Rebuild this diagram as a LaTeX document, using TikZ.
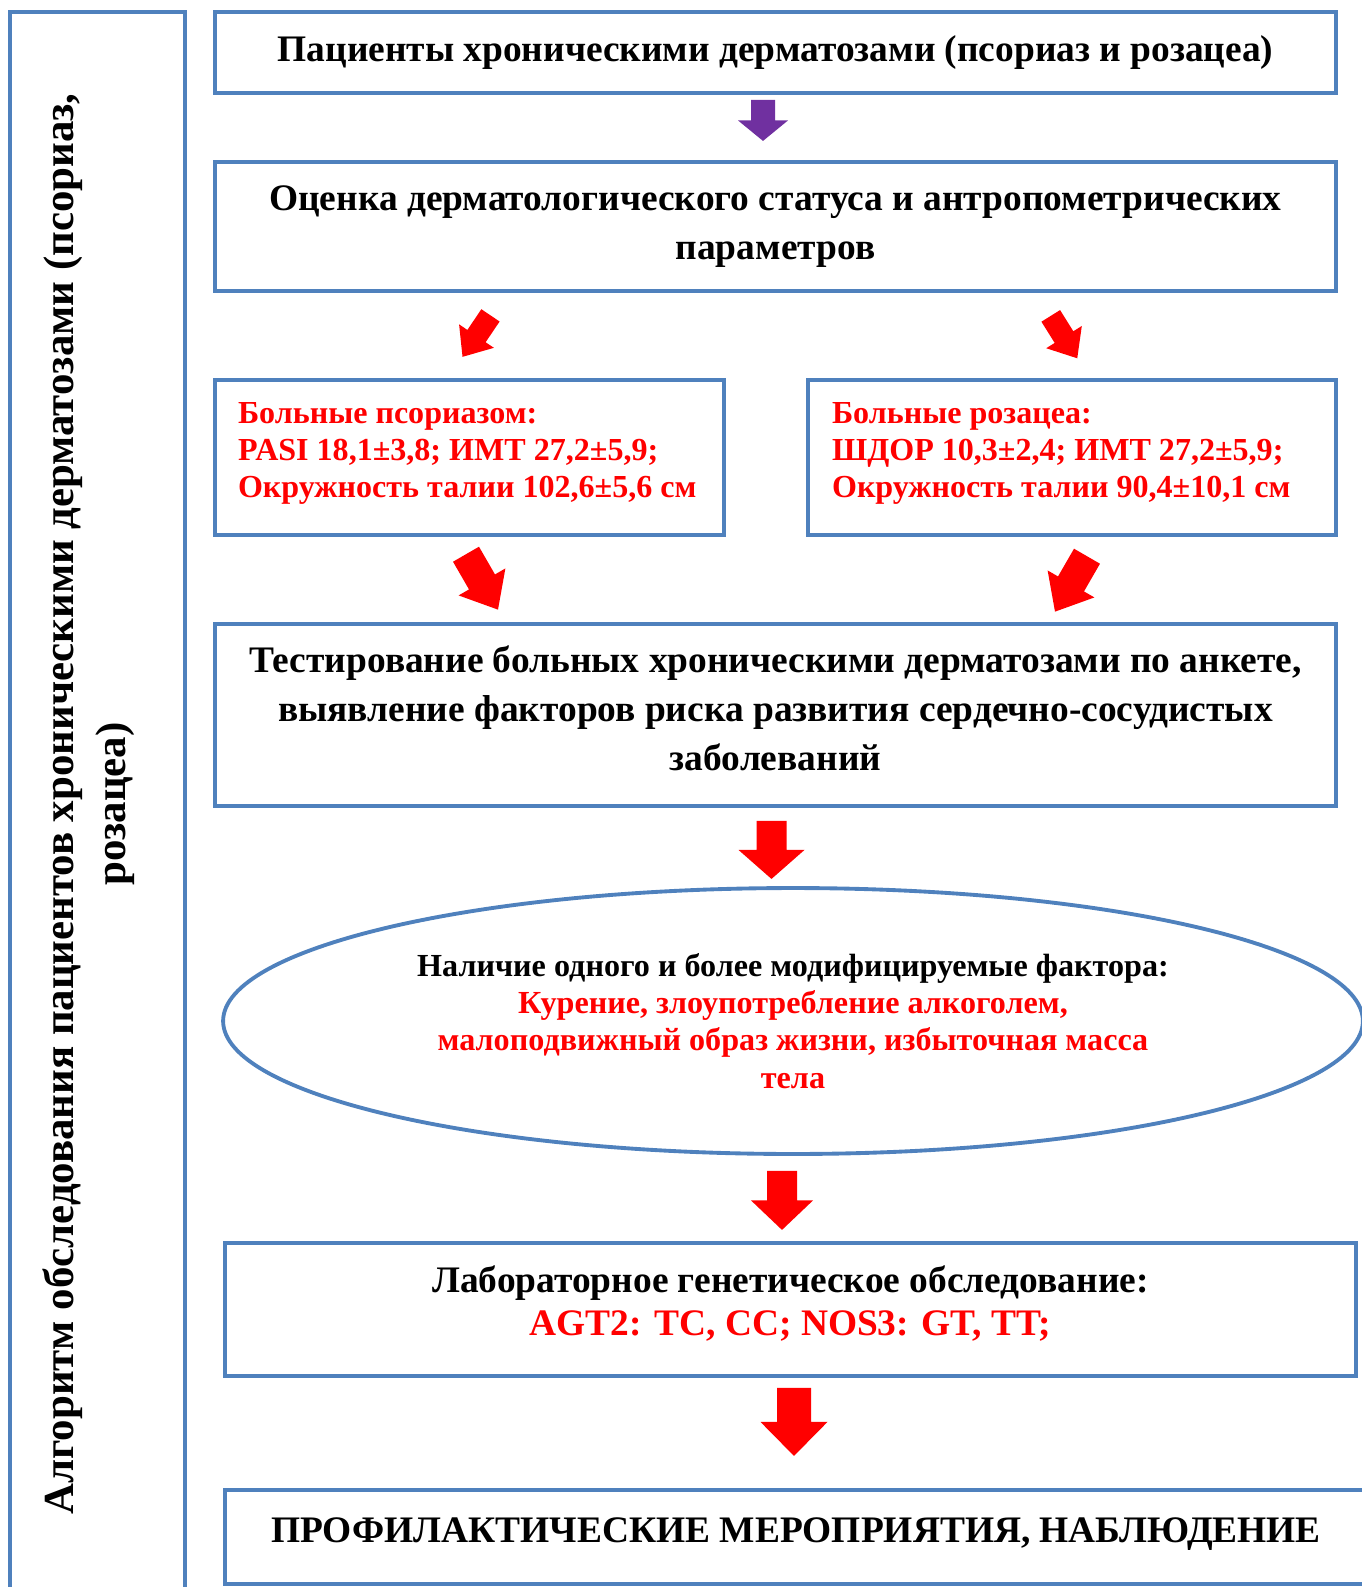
\documentclass[tikz,border=0pt]{standalone}
\usepackage{fontspec}
\setmainfont{Liberation Serif}
\usetikzlibrary{calc,shapes.geometric}

\definecolor{frameblue}{RGB}{79,129,189}
\definecolor{arrowpurple}{RGB}{112,48,160}

% block arrow: colour, centre, angle, length, shaft width, head width
\newcommand{\blkarrow}[6]{%
  \begin{scope}[shift={#2}, rotate=#3]
    \fill [#1] (-#5/2,-#4/2) -- (#5/2,-#4/2) -- (#5/2,0) -- (#6/2,0)
      -- (0,#4/2) -- (-#6/2,0) -- (-#5/2,0) -- cycle;
  \end{scope}}
% lift text inside a box without changing its size
\newcommand{\lifttext}[2]{\raisebox{#1}[\height][\depth]{#2}}

\begin{document}
\begin{tikzpicture}[x=0.02cm,y=-0.02cm,
    box/.style={draw=frameblue, line width=2.2pt, inner sep=0pt, align=center,
      font=\bfseries\fontsize{21.3}{27.8}\selectfont},
    redbox/.style={box, align=left, text=red,
      font=\bfseries\fontsize{18.25}{21.2}\selectfont}]
  \useasboundingbox (0,0) rectangle (1362,1587);

  \node [box, minimum width=3.5cm, minimum height=31.76cm] (side) at (97.5,806) {};
  \node [rotate=90, align=center, font=\bfseries\fontsize{24.4}{29.5}\selectfont]
    (sidetext) at (89,804)
    {Алгоритм обследования пациентов хроническими дерматозами (псориаз,\\ розацеа)};

  \node [box, minimum width=22.42cm, minimum height=1.62cm] (pat) at (775.5,52.5)
    {Пациенты хроническими дерматозами (псориаз и розацеа)};
  \node [box, minimum width=22.42cm, minimum height=2.58cm] (eval) at (775.5,226.5)
    {Оценка дерматологического статуса и антропометрических\\ параметров};

  \node [redbox, minimum width=10.18cm, minimum height=3.1cm] (pso) at (469.5,457.5)
    {\lifttext{0.08cm}{\parbox{9.26cm}{Больные псориазом:\\
      PASI 18,1±3,8; ИМТ 27,2±5,9;\\ Окружность талии 102,6±5,6 см}}};
  \node [redbox, minimum width=10.56cm, minimum height=3.1cm] (ros) at (1072,457.5)
    {\lifttext{0.08cm}{\parbox{9.6cm}{Больные розацеа:\\
      ШДОР 10,3±2,4; ИМТ 27,2±5,9;\\ Окружность талии 90,4±10,1 см}}};

  \node [box, minimum width=22.42cm, minimum height=3.64cm] (test) at (775.5,715)
    {\lifttext{0.14cm}{\parbox{22cm}{\centering
     Тестирование больных хроническими дерматозами по анкете,\\
     выявление факторов риска развития сердечно-сосудистых\\ заболеваний}}};

  \node [box, ellipse, minimum width=22.8cm, minimum height=5.32cm,
    font=\bfseries\fontsize{18.3}{21.2}\selectfont] (risk) at (793,1021)
    {Наличие одного и более модифицируемые фактора:\\
     \textcolor{red}{Курение, злоупотребление алкоголем,}\\
     \textcolor{red}{малоподвижный образ жизни, избыточная масса}\\
     \textcolor{red}{тела}};

  \node [box, minimum width=22.62cm, minimum height=2.66cm,
    font=\bfseries\fontsize{21.3}{24}\selectfont] (lab) at (790.5,1309.5)
    {\lifttext{0.12cm}{\parbox{20cm}{\centering Лабораторное генетическое обследование:\\
     \textcolor{red}{AGT2: TC, CC; NOS3: GT, TT;}}}};

  \node [box, minimum width=22.84cm, minimum height=1.88cm] (prof) at (796,1537)
    {\lifttext{0.05cm}{ПРОФИЛАКТИЧЕСКИЕ МЕРОПРИЯТИЯ, НАБЛЮДЕНИЕ}};

  % arrows between the boxes
  \blkarrow{arrowpurple}{($(pat.south)+(-12.5,25.5)$)}{0}{41}{24}{50}
  \blkarrow{red}{($(pso.north)+(7,-42)$)}{-34}{50}{22}{42}
  \blkarrow{red}{($(ros.north)+(-8,-41)$)}{32}{50}{22}{42}
  \blkarrow{red}{($(pso.south)+(12.5,45)$)}{30}{64}{30}{54}
  \blkarrow{red}{($(ros.south)+(-1,47)$)}{-30}{64}{30}{54}
  \blkarrow{red}{($(test.south)+(-4,42)$)}{0}{58}{30}{66}
  \blkarrow{red}{($(risk.south)+(-11,44.5)$)}{0}{59}{30}{62}
  \blkarrow{red}{($(lab.south)+(3.5,44)$)}{0}{68}{34}{67}
\end{tikzpicture}
\end{document}
